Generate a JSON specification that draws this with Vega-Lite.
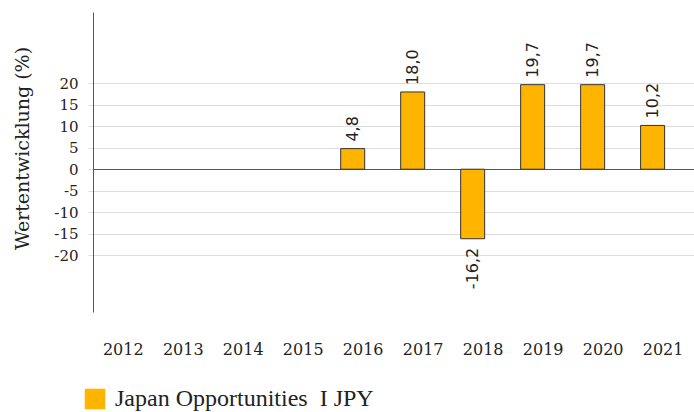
{
  "$schema": "https://vega.github.io/schema/vega-lite/v6.json",
  "autosize": "none",
  "padding": {"left": 93, "top": 12, "right": 0, "bottom": 100},
  "width": 601,
  "height": 300,
  "background": "white",
  "config": {
    "view": {"stroke": null},
    "locale": {"number": {"decimal": ",", "thousands": ".", "grouping": [3], "currency": ["", " €"], "minus": "-"}}
  },
  "data": {
    "values": [
      {"year": 2012, "value": null, "series": "Japan Opportunities\u00a0 I JPY"},
      {"year": 2013, "value": null, "series": "Japan Opportunities\u00a0 I JPY"},
      {"year": 2014, "value": null, "series": "Japan Opportunities\u00a0 I JPY"},
      {"year": 2015, "value": null, "series": "Japan Opportunities\u00a0 I JPY"},
      {"year": 2016, "value": 4.8, "series": "Japan Opportunities\u00a0 I JPY"},
      {"year": 2017, "value": 18.0, "series": "Japan Opportunities\u00a0 I JPY"},
      {"year": 2018, "value": -16.2, "series": "Japan Opportunities\u00a0 I JPY"},
      {"year": 2019, "value": 19.7, "series": "Japan Opportunities\u00a0 I JPY"},
      {"year": 2020, "value": 19.7, "series": "Japan Opportunities\u00a0 I JPY"},
      {"year": 2021, "value": 10.2, "series": "Japan Opportunities\u00a0 I JPY"}
    ]
  },
  "encoding": {
    "x": {
      "field": "year", "type": "quantitative",
      "scale": {"domain": [2011.7541, 2021.6066], "nice": false, "zero": false},
      "axis": {
        "title": null, "values": [2012, 2013, 2014, 2015, 2016, 2017, 2018, 2019, 2020, 2021],
        "format": "d", "grid": false, "domain": false, "ticks": false,
        "labelFont": "DejaVu Serif", "labelFontSize": 16, "labelColor": "#222222",
        "labelPadding": 29, "labelOffset": 10, "labelFlush": false, "labelOverlap": false
      }
    },
    "y": {
      "field": "value", "type": "quantitative",
      "scale": {"domain": [-33.27, 36.63], "nice": false, "zero": false},
      "axis": {
        "title": "Wertentwicklung (%)",
        "values": [-20, -15, -10, -5, 0, 5, 10, 15, 20],
        "format": "d", "labelOverlap": false, "labelFlush": false,
        "grid": true,
        "gridColor": {"condition": {"test": "datum.value === 0", "value": "#555555"}, "value": "#dddddd"},
        "gridWidth": 1,
        "domain": true, "domainColor": "#555555", "domainWidth": 1,
        "ticks": true, "tickSize": 5, "tickColor": "#dddddd",
        "labelFont": "DejaVu Serif", "labelFontSize": 15, "labelColor": "#222222", "labelPadding": 10,
        "titleFont": "DejaVu Serif", "titleFontSize": 19, "titleFontWeight": "normal", "titleColor": "#222222",
        "titleX": -71, "titleY": 136, "titleAlign": "center", "titleBaseline": "middle", "titleAngle": -90
      }
    }
  },
  "layer": [
    {
      "mark": {"type": "bar", "size": 24, "stroke": "#333333", "strokeWidth": 1},
      "encoding": {
        "color": {
          "field": "series", "type": "nominal",
          "scale": {"range": ["#FFB400"]},
          "legend": {
            "title": null, "orient": "none", "legendX": -10, "legendY": 375,
            "symbolType": "square", "symbolSize": 420, "symbolStrokeWidth": 0,
            "labelFont": "Liberation Serif", "labelFontSize": 24, "labelColor": "#222222",
            "labelOffset": 8, "labelLimit": 500
          }
        }
      }
    },
    {
      "transform": [{"filter": "datum.value > 0"}],
      "mark": {"type": "text", "angle": -90, "align": "left", "baseline": "middle", "dx": 7, "font": "DejaVu Sans", "fontSize": 16, "color": "#222222"},
      "encoding": {
        "text": {"field": "value", "type": "quantitative", "format": ".1f"}
      }
    },
    {
      "transform": [{"filter": "datum.value < 0"}],
      "mark": {"type": "text", "angle": -90, "align": "right", "baseline": "middle", "dx": -9, "font": "DejaVu Sans", "fontSize": 16, "color": "#222222"},
      "encoding": {
        "text": {"field": "value", "type": "quantitative", "format": ".1f"}
      }
    }
  ]
}
